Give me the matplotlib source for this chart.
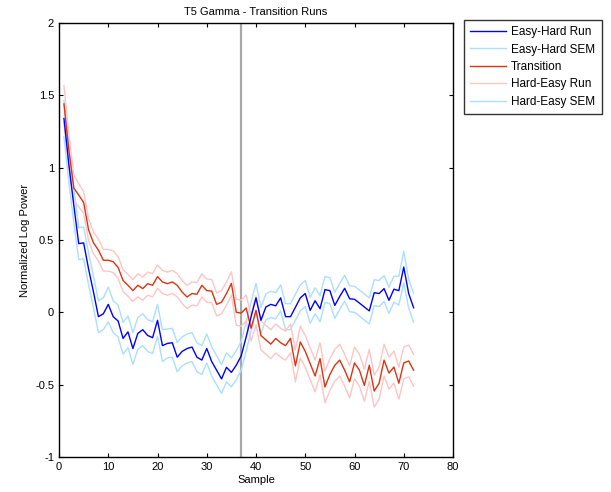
import matplotlib
matplotlib.use('Agg')
import matplotlib.pyplot as plt
from matplotlib.lines import Line2D
import numpy as np

plt.rcParams['font.family'] = ['Liberation Sans', 'DejaVu Sans']

# samples 1..72
sample = np.arange(1, 73)

# Easy-Hard run (blue) and its SEM
easy_hard = [1.34, 1.02, 0.74, 0.475, 0.48, 0.30, 0.14, -0.03, -0.01, 0.055,
             -0.03, -0.06, -0.18, -0.135, -0.25, -0.146, -0.12, -0.16, -0.175, -0.055,
             -0.23, -0.215, -0.21, -0.31, -0.27, -0.25, -0.24, -0.31, -0.33, -0.25,
             -0.34, -0.40, -0.46, -0.38, -0.415, -0.365, -0.30, -0.17, -0.03, 0.10,
             -0.055, 0.037, 0.055, 0.045, 0.10, -0.03, -0.03, 0.035, 0.10, 0.13,
             0.014, 0.08, 0.025, 0.157, 0.15, 0.048, 0.11, 0.166, 0.094, 0.09,
             0.064, 0.037, 0.01, 0.136, 0.13, 0.164, 0.083, 0.16, 0.15, 0.313,
             0.13, 0.032]
easy_hard_sem = [0.125, 0.12, 0.12, 0.11, 0.11, 0.11, 0.11, 0.11, 0.11, 0.12,
                 0.11, 0.11, 0.11, 0.11, 0.11, 0.11, 0.11, 0.11, 0.11, 0.11,
                 0.11, 0.10, 0.10, 0.10, 0.10, 0.10, 0.10, 0.10, 0.10, 0.10,
                 0.10, 0.10, 0.10, 0.10, 0.10, 0.10, 0.10, 0.10, 0.10, 0.10,
                 0.09, 0.09, 0.09, 0.09, 0.09, 0.09, 0.09, 0.09, 0.09, 0.09,
                 0.09, 0.09, 0.09, 0.09, 0.09, 0.09, 0.09, 0.09, 0.09, 0.09,
                 0.09, 0.09, 0.09, 0.09, 0.09, 0.09, 0.09, 0.09, 0.10, 0.11,
                 0.10, 0.10]

# Hard-Easy run (red) and its SEM
hard_easy = [1.44, 1.12, 0.86, 0.81, 0.76, 0.57, 0.48, 0.43, 0.36, 0.36,
             0.35, 0.31, 0.22, 0.187, 0.15, 0.187, 0.164, 0.198, 0.187, 0.247,
             0.21, 0.198, 0.21, 0.187, 0.14, 0.106, 0.13, 0.125, 0.187, 0.15,
             0.147, 0.055, 0.07, 0.13, 0.20, 0.0, -0.005, 0.03, -0.11, 0.014,
             -0.16, -0.19, -0.22, -0.18, -0.21, -0.23, -0.18, -0.37, -0.205, -0.27,
             -0.355, -0.44, -0.32, -0.516, -0.43, -0.366, -0.33, -0.40, -0.48, -0.35,
             -0.40, -0.505, -0.366, -0.544, -0.49, -0.33, -0.42, -0.378, -0.49, -0.35,
             -0.336, -0.40]
hard_easy_sem = [0.127, 0.11, 0.09, 0.08, 0.075, 0.075, 0.075, 0.075, 0.075, 0.075,
                 0.075, 0.075, 0.075, 0.075, 0.075, 0.08, 0.08, 0.08, 0.08, 0.08,
                 0.08, 0.08, 0.08, 0.08, 0.08, 0.08, 0.08, 0.08, 0.08, 0.08,
                 0.08, 0.08, 0.08, 0.08, 0.08, 0.09, 0.09, 0.09, 0.09, 0.10,
                 0.10, 0.10, 0.10, 0.10, 0.10, 0.10, 0.10, 0.11, 0.11, 0.11,
                 0.11, 0.11, 0.11, 0.11, 0.11, 0.11, 0.11, 0.11, 0.11, 0.11,
                 0.11, 0.11, 0.11, 0.11, 0.11, 0.11, 0.11, 0.11, 0.11, 0.11,
                 0.11, 0.11]

transition_at = 37
legend_labels = ['Easy-Hard Run', 'Easy-Hard SEM', 'Transition',
                 'Hard-Easy Run', 'Hard-Easy SEM']

blue = '#0000ff'
light_blue = '#aadfff'
red = '#dd3311'
pink = '#ffc4c4'

eh = np.array(easy_hard)
ehs = np.array(easy_hard_sem)
he = np.array(hard_easy)
hes = np.array(hard_easy_sem)

fig = plt.figure(figsize=(6.11, 4.92), dpi=100)
ax = fig.add_axes([0.0966, 0.0711, 0.6448, 0.8822])

ax.axvline(transition_at, color='#a8a8a8', lw=1.6, zorder=1)

ax.plot(sample, eh + ehs, color=light_blue, lw=1)
ax.plot(sample, eh - ehs, color=light_blue, lw=1)
ax.plot(sample, he + hes, color=pink, lw=1)
ax.plot(sample, he - hes, color=pink, lw=1)
ax.plot(sample, he, color=red, lw=1)
ax.plot(sample, eh, color=blue, lw=1)

ax.set_xlim(0, 80)
ax.set_ylim(-1, 2)
ax.set_xticks(range(0, 81, 10))
ax.set_yticks([-1, -0.5, 0, 0.5, 1, 1.5, 2])
ax.set_yticklabels(['-1', '-0.5', '0', '0.5', '1', '1.5', '2'])
ax.tick_params(direction='in', top=True, right=True, labelsize=8, length=3)
for s in ax.spines.values():
    s.set_linewidth(1)

ax.set_title('T5 Gamma - Transition Runs', fontsize=8)
ax.set_xlabel('Sample', fontsize=8, labelpad=2)
ax.set_ylabel('Normalized Log Power', fontsize=8)

handles = [Line2D([], [], color=blue, lw=1),
           Line2D([], [], color=light_blue, lw=1),
           Line2D([], [], color=red, lw=1),
           Line2D([], [], color=pink, lw=1),
           Line2D([], [], color=light_blue, lw=1)]
leg = fig.legend(handles, legend_labels, loc='upper left',
                 bbox_to_anchor=(0.759, 0.96), borderaxespad=0,
                 fontsize=8.5, frameon=True,
                 fancybox=False, edgecolor='black', handlelength=3.0,
                 borderpad=0.55, labelspacing=0.46, handletextpad=0.45)
leg.get_frame().set_linewidth(1)

fig.savefig('out.png', dpi=100)
